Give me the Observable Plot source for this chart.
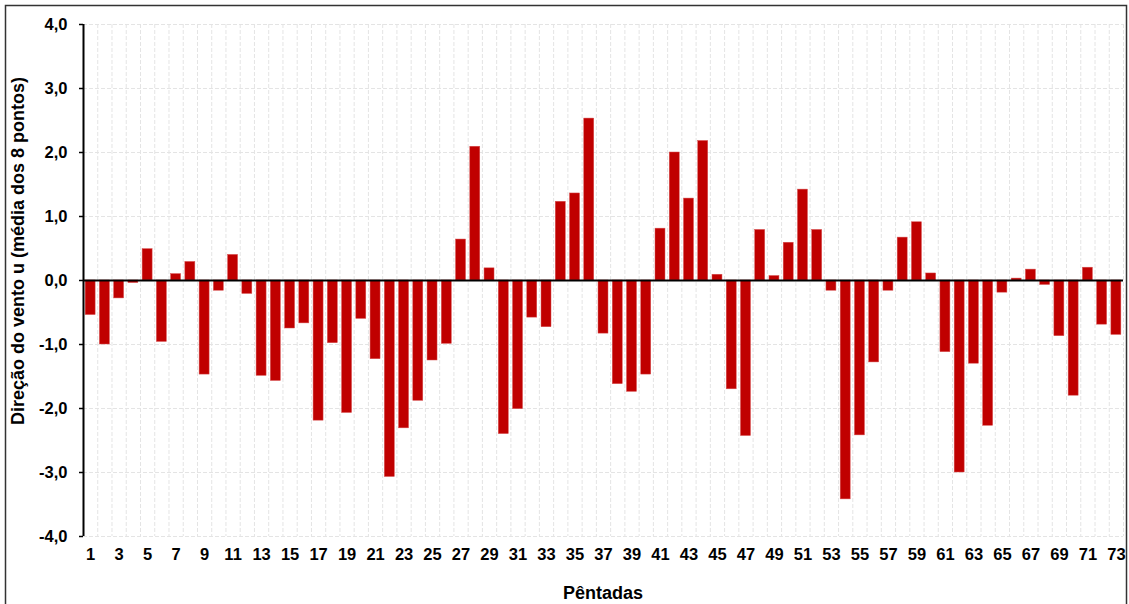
<!DOCTYPE html>
<html>
<head>
<meta charset="utf-8">
<script src="https://cdn.jsdelivr.net/npm/d3@7"></script>
<script src="https://cdn.jsdelivr.net/npm/@observablehq/plot@0.6"></script>
<style>
  html, body { margin: 0; padding: 0; background: #fff; }
  svg { display: block; }
</style>
</head>
<body>
<div id="chart"></div>
<script>
const pentadas = d3.range(1, 74);
const vento = [
  -0.54, -1.00, -0.28, -0.04, 0.49, -0.96, 0.10, 0.29, -1.47, -0.16,
   0.40, -0.21, -1.49, -1.57, -0.75, -0.67, -2.19, -0.98, -2.07, -0.60,
  -1.23, -3.07, -2.31, -1.88, -1.25, -0.99, 0.64, 2.09, 0.19, -2.40,
  -2.01, -0.58, -0.73, 1.23, 1.36, 2.53, -0.83, -1.62, -1.74, -1.47,
   0.81, 2.00, 1.28, 2.18, 0.09, -1.70, -2.43, 0.79, 0.07, 0.59,
   1.42, 0.79, -0.16, -3.42, -2.42, -1.28, -0.16, 0.67, 0.91, 0.11,
  -1.12, -3.00, -1.30, -2.27, -0.19, 0.03, 0.17, -0.07, -0.87, -1.80,
   0.20, -0.69, -0.85
];
const yTicks = [-4, -3, -2, -1, 0, 1, 2, 3, 4];
const xTicks = d3.range(1, 74, 2);
const yLabel = "Direção do vento u (média dos 8 pontos)";
const xLabel = "Pêntadas";

const data = pentadas.map((p, i) => ({p, v: vento[i]}));
const gridX = d3.range(0.5, 74, 1);
const font = "'Liberation Sans', Arial, Helvetica, sans-serif";

const chart = Plot.plot({
  width: 1129,
  height: 604,
  marginTop: 24,
  marginBottom: 68,
  marginLeft: 83,
  marginRight: 6,
  style: {fontFamily: font, fontWeight: "bold", fontSize: "16px", color: "#000", background: "#fff"},
  x: {domain: [0.5, 73.5], axis: null},
  y: {domain: [-4, 4], axis: null},
  marks: [
    Plot.ruleY(yTicks, {stroke: "#e4e4e4", strokeWidth: 1, strokeDasharray: "4,2"}),
    Plot.ruleX(gridX, {stroke: "#e4e4e4", strokeWidth: 1, strokeDasharray: "4,2"}),
    Plot.rectY(data, {x1: d => d.p - 0.35, x2: d => d.p + 0.35, y1: 0, y2: "v", fill: "#C00000", stroke: "#d85050", strokeWidth: 0.5}),
    Plot.ruleY([0], {stroke: "#000", strokeWidth: 2}),
    Plot.ruleX([0.5], {stroke: "#000", strokeWidth: 2}),
    Plot.axisY({ticks: yTicks, tickFormat: d => d.toFixed(1).replace(".", ","), tickSize: 4, tickPadding: 12, label: null, fontSize: 16.5, strokeWidth: 1.5}),
    Plot.axisX({ticks: xTicks, tickFormat: d => String(d), tickSize: 0, tickPadding: 12, label: null, fontSize: 16.5})
  ]
});

document.getElementById("chart").appendChild(chart);

const svg = d3.select(chart);
svg.append("rect")
  .attr("x", 5.5).attr("y", 5.5)
  .attr("width", 1121).attr("height", 610)
  .attr("fill", "none").attr("stroke", "#333").attr("stroke-width", 1.5);
svg.append("text")
  .attr("transform", "translate(18,251) rotate(-90)")
  .attr("text-anchor", "middle")
  .attr("dominant-baseline", "central")
  .style("font-family", font).style("font-weight", "bold").style("font-size", "18px")
  .attr("fill", "#000")
  .text(yLabel);
svg.append("text")
  .attr("x", 603).attr("y", 599)
  .attr("text-anchor", "middle")
  .style("font-family", font).style("font-weight", "bold").style("font-size", "18px")
  .attr("fill", "#000")
  .text(xLabel);
</script>
</body>
</html>
